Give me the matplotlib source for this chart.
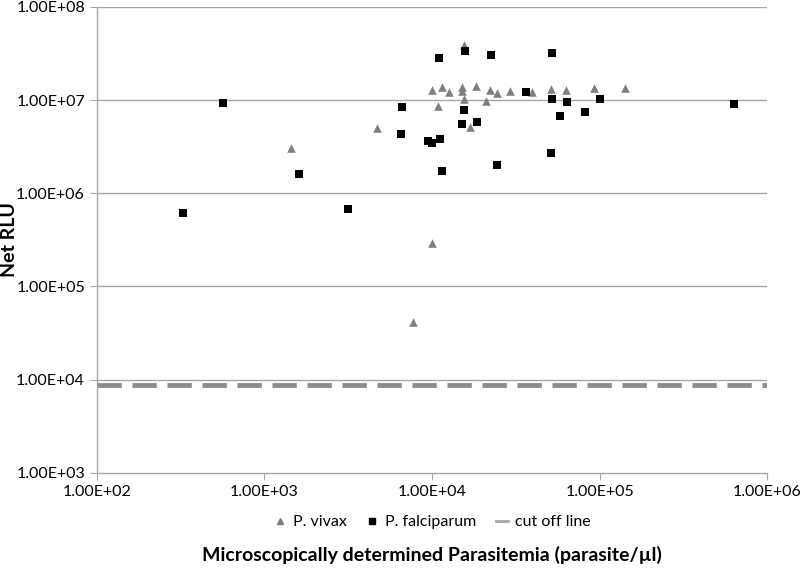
import matplotlib
matplotlib.use("Agg")
import matplotlib.pyplot as plt
from matplotlib.ticker import FixedLocator, FuncFormatter, NullLocator
from matplotlib.lines import Line2D

plt.rcParams['font.family'] = ['Lato', 'DejaVu Sans']

# P. vivax (parasite/ul, net RLU)
vivax_x = [15500, 10000, 11500, 12700, 15000, 15000, 15500, 18200, 22100, 24500,
           29200, 39400, 51500, 62800, 92200, 142500, 10800, 21000, 16900, 4680,
           1445, 10000, 7670]
vivax_y = [3.9e7, 1.29e7, 1.37e7, 1.22e7, 1.37e7, 1.24e7, 1.03e7, 1.40e7, 1.29e7, 1.19e7,
           1.24e7, 1.22e7, 1.31e7, 1.27e7, 1.34e7, 1.34e7, 8.6e6, 9.7e6, 5.2e6, 4.99e6,
           3.09e6, 2.92e5, 4.14e4]

# P. falciparum
falc_x = [11070, 15800, 22400, 52000, 36200, 52000, 64300, 100300, 6590, 15460,
          81600, 58000, 15000, 18600, 6500, 9420, 10000, 11120, 51300, 24500,
          11500, 565, 1615, 325, 3140, 635000]
falc_y = [2.82e7, 3.37e7, 3.08e7, 3.2e7, 1.22e7, 1.02e7, 9.57e6, 1.02e7, 8.5e6, 7.85e6,
          7.5e6, 6.7e6, 5.55e6, 5.87e6, 4.34e6, 3.67e6, 3.45e6, 3.84e6, 2.69e6, 2.03e6,
          1.75e6, 9.27e6, 1.60e6, 6.1e5, 6.75e5, 9.1e6]

cutoff = 8.8e3
x_range = [1e2, 1e6]
y_range = [1e3, 1e8]

fig = plt.figure(figsize=(8, 5.71), dpi=100)
ax = fig.add_axes([0.121, 0.172, 0.838, 0.816])

ax.set_xscale('log')
ax.set_yscale('log')
ax.set_xlim(x_range)
ax.set_ylim(y_range)

y_ticks = [1e3, 1e4, 1e5, 1e6, 1e7, 1e8]
x_ticks = [1e2, 1e3, 1e4, 1e5, 1e6]
ax.yaxis.set_major_locator(FixedLocator(y_ticks))
ax.xaxis.set_major_locator(FixedLocator(x_ticks))
ax.yaxis.set_minor_locator(NullLocator())
ax.xaxis.set_minor_locator(NullLocator())
fmt = FuncFormatter(lambda v, p: "%.2E" % v)
ax.xaxis.set_major_formatter(fmt)
ax.yaxis.set_major_formatter(fmt)

for t in y_ticks[1:]:
    ax.axhline(t, color='#a6a6a6', lw=1, zorder=0)

ax.scatter(vivax_x, vivax_y, marker='^', s=38, color='#7f7f7f', lw=0, zorder=3)
ax.scatter(falc_x, falc_y, marker='s', s=34, color='black', lw=0, zorder=3)
ax.plot(x_range, [cutoff, cutoff], color='#8c8c8c', lw=3.5, dashes=(5, 2.2), zorder=2)

for s in ['top', 'right']:
    ax.spines[s].set_visible(False)
for s in ['left', 'bottom']:
    ax.spines[s].set_color('#a6a6a6')
    ax.spines[s].set_linewidth(1)
ax.tick_params(axis='both', colors='#a6a6a6', labelcolor='black', labelsize=11.5, length=5, direction='out')

ax.set_ylabel('Net RLU', fontsize=14, fontweight='bold')
ax.yaxis.set_label_coords(-0.118, 0.5)
ax.set_xlabel('Microscopically determined Parasitemia (parasite/µl)', fontsize=14, fontweight='bold', labelpad=34)

handles = [
    Line2D([], [], marker='^', ls='none', color='#7f7f7f', markersize=4.5),
    Line2D([], [], marker='s', ls='none', color='black', markersize=4.5),
    Line2D([], [], color='#a6a6a6', lw=2),
]
labels = ['P. vivax', 'P. falciparum', 'cut off line']
ax.legend(handles, labels, loc='upper center', bbox_to_anchor=(0.5, -0.06), ncol=3, frameon=False,
          fontsize=11.5, handlelength=0.8, handletextpad=0.4, columnspacing=1.2)

fig.savefig('out.png', dpi=100)
